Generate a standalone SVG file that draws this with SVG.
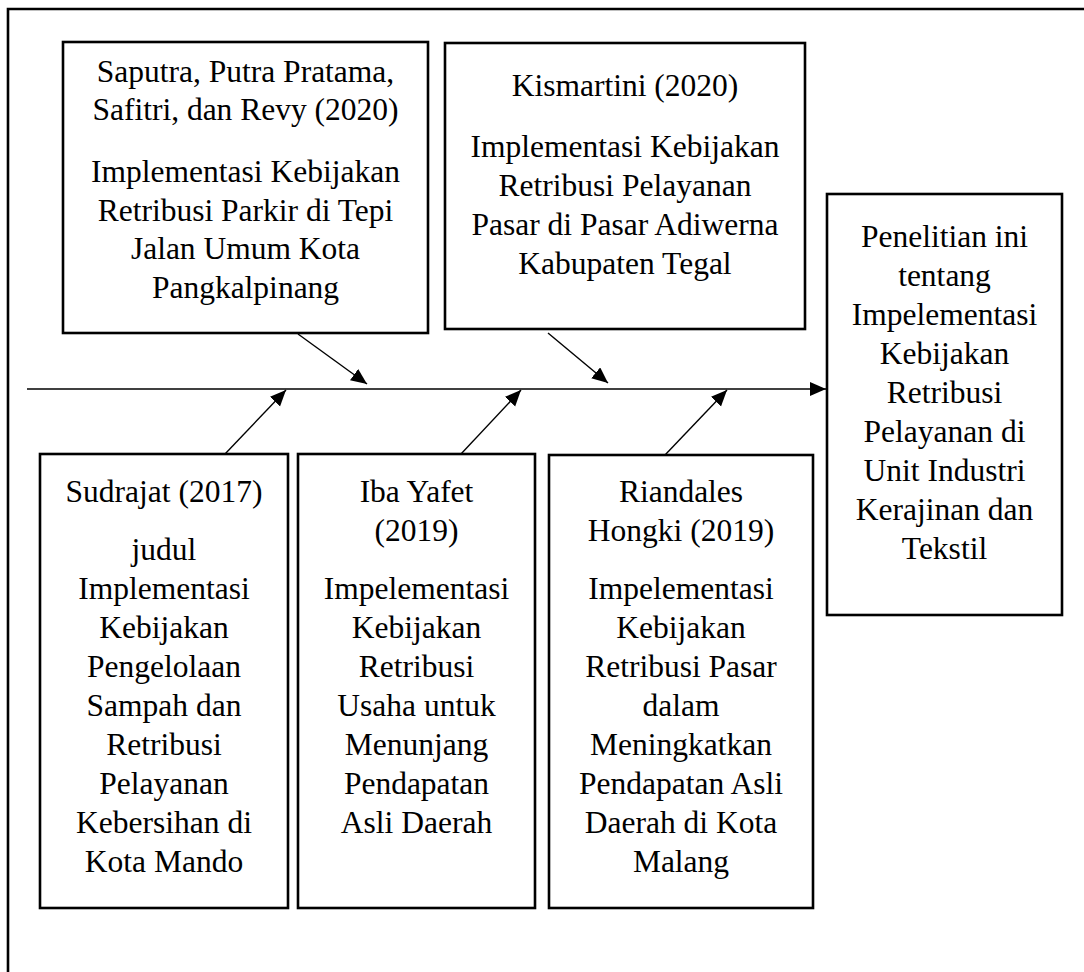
<svg xmlns="http://www.w3.org/2000/svg" width="1084" height="972" viewBox="0 0 1084 972">
<defs>
<marker id="ah" markerUnits="userSpaceOnUse" markerWidth="17" markerHeight="15" refX="16" refY="7" orient="auto">
<path d="M0,0 L16,7 L0,14 z" fill="#000"/>
</marker>
<style>
.box{fill:#fff;stroke:#000;stroke-width:2.6}
.t{font-family:"Liberation Serif","Times New Roman",serif;font-size:31.5px;fill:#000;text-anchor:middle}
.c{stroke:#000;stroke-width:1.4;fill:none;marker-end:url(#ah)}
</style>
</defs>
<rect width="1084" height="972" fill="#fff"/>
<path d="M8,972 L8,9 L1084,9" fill="none" stroke="#000" stroke-width="2.6"/>
<g id="connectors">
<line class="c" x1="27" y1="389" x2="826" y2="389"/>
<line class="c" x1="298" y1="334" x2="367" y2="384"/>
<line class="c" x1="548" y1="333" x2="608" y2="383"/>
<line class="c" x1="225" y1="454" x2="286" y2="390"/>
<line class="c" x1="461" y1="454" x2="521" y2="390"/>
<line class="c" x1="665" y1="455" x2="727" y2="390"/>
</g>
<g id="saputra">
<rect class="box" x="63" y="42" width="365" height="291"/>
<text class="t" x="245.5" y="82">Saputra, Putra Pratama,</text>
<text class="t" x="245.5" y="120">Safitri, dan Revy (2020)</text>
<text class="t" x="245.5" y="182">Implementasi Kebijakan</text>
<text class="t" x="245.5" y="221">Retribusi Parkir di Tepi</text>
<text class="t" x="245.5" y="259">Jalan Umum Kota</text>
<text class="t" x="245.5" y="298">Pangkalpinang</text>
</g>
<g id="kismartini">
<rect class="box" x="445" y="43" width="360" height="286"/>
<text class="t" x="625" y="96">Kismartini (2020)</text>
<text class="t" x="625" y="157">Implementasi Kebijakan</text>
<text class="t" x="625" y="196">Retribusi Pelayanan</text>
<text class="t" x="625" y="235">Pasar di Pasar Adiwerna</text>
<text class="t" x="625" y="274">Kabupaten Tegal</text>
</g>
<g id="penelitian">
<rect class="box" x="827" y="194" width="235" height="421"/>
<text class="t" x="944.5" y="247">Penelitian ini</text>
<text class="t" x="944.5" y="286">tentang</text>
<text class="t" x="944.5" y="325">Impelementasi</text>
<text class="t" x="944.5" y="364">Kebijakan</text>
<text class="t" x="944.5" y="403">Retribusi</text>
<text class="t" x="944.5" y="442">Pelayanan di</text>
<text class="t" x="944.5" y="481">Unit Industri</text>
<text class="t" x="944.5" y="520">Kerajinan dan</text>
<text class="t" x="944.5" y="559">Tekstil</text>
</g>
<g id="sudrajat">
<rect class="box" x="40" y="454" width="248" height="454"/>
<text class="t" x="164" y="502">Sudrajat (2017)</text>
<text class="t" x="164" y="560">judul</text>
<text class="t" x="164" y="599">Implementasi</text>
<text class="t" x="164" y="638">Kebijakan</text>
<text class="t" x="164" y="677">Pengelolaan</text>
<text class="t" x="164" y="716">Sampah dan</text>
<text class="t" x="164" y="755">Retribusi</text>
<text class="t" x="164" y="794">Pelayanan</text>
<text class="t" x="164" y="833">Kebersihan di</text>
<text class="t" x="164" y="872">Kota Mando</text>
</g>
<g id="iba">
<rect class="box" x="298" y="454" width="237" height="454"/>
<text class="t" x="416.5" y="502">Iba Yafet</text>
<text class="t" x="416.5" y="541">(2019)</text>
<text class="t" x="416.5" y="599">Impelementasi</text>
<text class="t" x="416.5" y="638">Kebijakan</text>
<text class="t" x="416.5" y="677">Retribusi</text>
<text class="t" x="416.5" y="716">Usaha untuk</text>
<text class="t" x="416.5" y="755">Menunjang</text>
<text class="t" x="416.5" y="794">Pendapatan</text>
<text class="t" x="416.5" y="833">Asli Daerah</text>
</g>
<g id="riandales">
<rect class="box" x="549" y="455" width="264" height="453"/>
<text class="t" x="681" y="502">Riandales</text>
<text class="t" x="681" y="541">Hongki (2019)</text>
<text class="t" x="681" y="599">Impelementasi</text>
<text class="t" x="681" y="638">Kebijakan</text>
<text class="t" x="681" y="677">Retribusi Pasar</text>
<text class="t" x="681" y="716">dalam</text>
<text class="t" x="681" y="755">Meningkatkan</text>
<text class="t" x="681" y="794">Pendapatan Asli</text>
<text class="t" x="681" y="833">Daerah di Kota</text>
<text class="t" x="681" y="872">Malang</text>
</g>
</svg>
